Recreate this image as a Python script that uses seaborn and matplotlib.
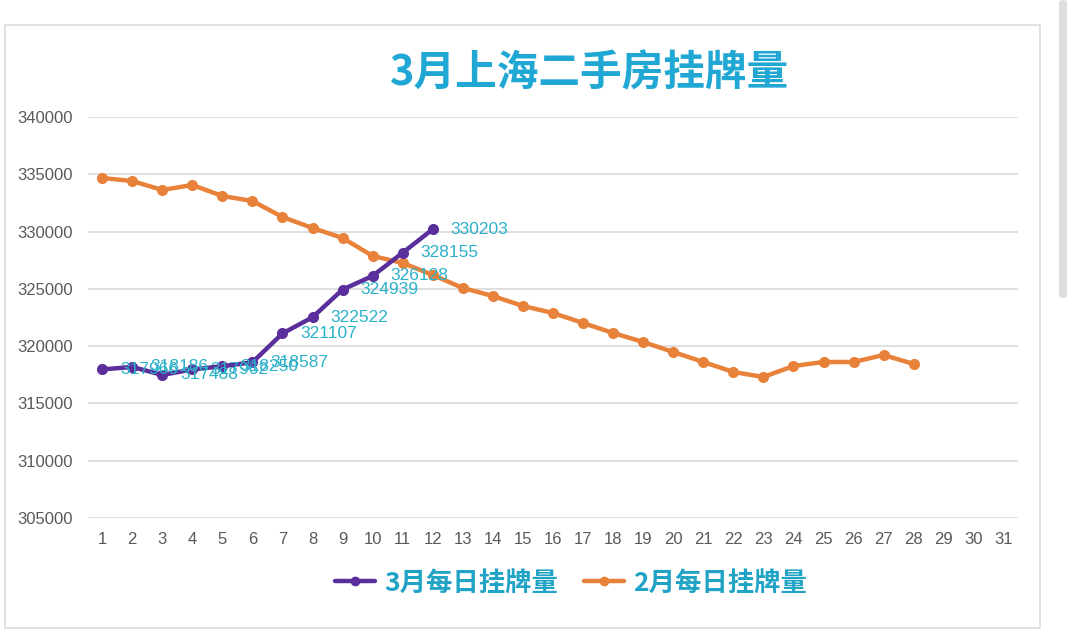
import numpy as np
import pandas as pd
import matplotlib.pyplot as plt
import seaborn as sns
from matplotlib.patches import Rectangle, FancyBboxPatch

# data
days_mar = list(range(1, 13))
mar_values = [317966, 318186, 317488, 317962, 318250, 318587,
              321107, 322522, 324939, 326128, 328155, 330203]
days_feb = list(range(1, 29))
feb_values = [334676, 334414, 333628, 334065, 333105, 332669, 331272, 330312,
              329440, 327869, 327258, 326211, 325076, 324378, 323505, 322894,
              322021, 321148, 320362, 319490, 318617, 317744, 317307, 318267,
              318617, 318617, 319229, 318442]
x_ticks = list(range(1, 32))
y_ticks = [305000, 310000, 315000, 320000, 325000, 330000, 335000, 340000]
series_names = ['3月每日挂牌量', '2月每日挂牌量']

df = pd.concat([
    pd.DataFrame({'day': days_mar, 'value': mar_values, 'series': series_names[0]}),
    pd.DataFrame({'day': days_feb, 'value': feb_values, 'series': series_names[1]}),
])

sns.set_style('white')
plt.rcParams['font.family'] = ['Noto Sans CJK SC', 'DejaVu Sans']

fig = plt.figure(figsize=(10.8, 6.44), dpi=100)

# screenshot frame: card border + scrollbar
fig.patches.append(Rectangle((5 / 1080, 1 - 628 / 644), 1035 / 1080, 603 / 644,
                             transform=fig.transFigure, fill=False,
                             edgecolor='#dcdcdc', linewidth=1.2))
fig.patches.append(FancyBboxPatch((1059 / 1080, 1 - 298 / 644), 8 / 1080, 298 / 644,
                                  boxstyle='round,pad=0,rounding_size=0.004',
                                  transform=fig.transFigure,
                                  facecolor='#dedede', edgecolor='none'))

ax = fig.add_axes([88 / 1080, 1 - 518 / 644, 930 / 1080, 401 / 644])
palette = {series_names[0]: '#5a2e9b', series_names[1]: '#e8823a'}
sns.lineplot(data=df, x='day', y='value', hue='series', palette=palette,
             hue_order=series_names[::-1], marker='o', markersize=8,
             markeredgewidth=0, linewidth=3.2, ax=ax, legend=False)

# March data labels, to the right of each point (they overlap like the original)
for d, v in zip(days_mar, mar_values):
    ax.annotate(str(v), (d, v), xytext=(13, 0), textcoords='offset points',
                va='center', ha='left', fontsize=12.5, color='#2bb1c9',
                family=['Liberation Sans', 'DejaVu Sans'])

ax.set_xlim(0.53, 31.47)
ax.set_ylim(305000, 340000)
ax.set_xticks(x_ticks)
ax.set_yticks(y_ticks)
ax.set_xticklabels([str(t) for t in x_ticks], family=['Liberation Sans'])
ax.set_yticklabels([str(t) for t in y_ticks], family=['Liberation Sans'])
ax.tick_params(axis='both', length=0, labelsize=12, labelcolor='#595959')
ax.tick_params(axis='x', pad=10)
ax.tick_params(axis='y', pad=11)
ax.grid(axis='y', color='#d9d9d9', linewidth=1.2)
ax.set_axisbelow(True)
for s in ax.spines.values():
    s.set_visible(False)
ax.set_xlabel('')
ax.set_ylabel('')

fig.text(590 / 1080, 1 - 73 / 644, '3月上海二手房挂牌量', ha='center', va='center',
         fontsize=30, fontweight='bold', color='#21a7d4')

# legend
handles = [plt.Line2D([], [], color=palette[n], marker='o', markersize=7,
                      markeredgewidth=0, linewidth=3.2) for n in series_names]
leg = fig.legend(handles, series_names, loc='center', bbox_to_anchor=(571 / 1080, 1 - 583 / 644),
                 ncol=2, frameon=False, fontsize=19, handlelength=1.5,
                 handletextpad=0.35, columnspacing=1.0)
for t in leg.get_texts():
    t.set_color('#21a3c6')
    t.set_fontweight('bold')

fig.savefig('out.png', dpi=100, facecolor='white')
